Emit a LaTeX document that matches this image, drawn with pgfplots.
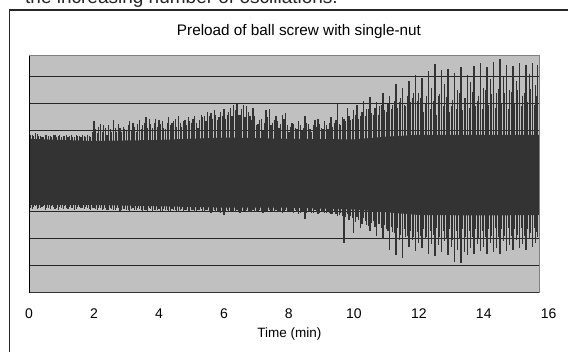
\documentclass[border=0pt]{standalone}
\usepackage{fontspec}
\setmainfont{Liberation Sans}
\usepackage{pgfplots}
\pgfplotsset{compat=1.18}
\usepackage{pgfplotstable}
\definecolor{sig}{HTML}{333333}
\definecolor{plotbg}{HTML}{C0C0C0}
\definecolor{frameg}{HTML}{808080}

\pgfplotstableread{
t hi lo
0.0 6.00 3.15
0.1 5.85 3.10
0.2 5.90 3.20
0.3 5.80 3.12
0.4 5.75 3.18
0.5 5.85 3.08
0.6 5.80 3.15
0.7 5.75 3.20
0.8 5.85 3.10
0.9 5.80 3.05
1.0 5.75 3.15
1.1 5.80 3.20
1.2 5.75 3.10
1.3 5.85 3.15
1.4 5.75 3.08
1.5 5.80 3.18
1.6 5.75 3.12
1.7 5.80 3.10
1.8 5.85 3.15
1.9 5.75 3.08
2.0 6.35 3.12
2.1 5.90 3.05
2.2 6.25 3.15
2.3 6.20 3.10
2.4 5.85 3.08
2.5 6.05 3.15
2.6 6.40 3.05
2.7 5.95 3.12
2.8 6.10 3.02
2.9 6.15 3.10
3.0 6.00 3.08
3.1 6.35 3.00
3.2 6.30 3.12
3.3 5.95 3.05
3.4 6.40 3.10
3.5 6.20 3.02
3.6 6.50 3.08
3.7 6.45 3.12
3.8 6.10 3.00
3.9 6.45 3.05
4.0 6.40 3.10
4.1 6.35 3.02
4.2 6.05 3.08
4.3 6.50 2.98
4.4 6.30 3.10
4.5 6.45 3.05
4.6 6.55 3.00
4.7 6.15 3.10
4.8 6.40 3.05
4.9 6.50 3.02
5.0 6.30 3.08
5.1 6.55 2.98
5.2 6.10 3.05
5.3 6.60 3.10
5.4 6.55 3.00
5.5 6.70 3.05
5.6 6.65 2.95
5.7 6.75 3.08
5.8 6.40 3.02
5.9 6.70 2.95
6.0 6.80 2.88
6.1 6.60 3.05
6.2 6.85 3.00
6.3 6.95 2.98
6.4 7.00 3.05
6.5 6.60 2.95
6.6 6.95 3.02
6.7 6.90 3.08
6.8 6.55 2.98
6.9 6.85 3.05
7.0 6.20 3.00
7.1 6.40 3.08
7.2 6.00 2.95
7.3 6.75 3.02
7.4 6.80 3.05
7.5 6.30 2.98
7.6 6.55 3.08
7.7 6.10 3.00
7.8 6.60 2.95
7.9 6.65 3.05
8.0 5.95 3.02
8.1 6.30 2.98
8.2 6.10 3.05
8.3 6.35 2.92
8.4 6.00 3.00
8.5 6.55 2.72
8.6 6.25 3.02
8.7 5.95 2.95
8.8 6.40 3.05
8.9 6.45 2.92
9.0 6.10 3.00
9.1 6.35 2.95
9.2 6.05 3.02
9.3 6.50 2.90
9.4 6.30 2.98
9.5 7.00 2.85
9.6 6.20 2.95
9.7 6.45 1.84
9.8 6.85 2.90
9.9 6.40 2.85
10.0 6.75 2.20
10.1 6.95 2.80
10.2 6.55 2.40
10.3 7.10 2.75
10.4 6.80 2.50
10.5 7.25 2.30
10.6 6.60 2.65
10.7 7.05 2.10
10.8 6.90 2.55
10.9 7.40 2.00
11.0 6.70 2.35
11.1 7.30 1.58
11.2 6.95 2.25
11.3 7.75 1.40
11.4 7.05 1.95
11.5 7.60 1.29
11.6 6.90 2.05
11.7 7.85 1.70
11.8 7.20 1.95
11.9 8.05 1.55
12.0 7.40 1.85
12.1 7.95 1.65
12.2 7.00 2.00
12.3 8.20 1.45
12.4 7.60 1.80
12.5 8.47 1.35
12.6 7.30 1.75
12.7 8.25 1.50
12.8 7.75 1.90
12.9 8.30 1.40
13.0 6.90 1.70
13.1 8.15 1.12
13.2 7.50 1.60
13.3 8.35 1.10
13.4 7.20 1.50
13.5 8.05 1.40
13.6 7.80 1.65
13.7 8.40 1.45
13.8 7.10 1.80
13.9 8.50 1.55
14.0 7.60 1.70
14.1 8.35 1.45
14.2 7.90 1.85
14.3 8.55 1.50
14.4 7.40 1.65
14.5 8.65 1.45
14.6 8.00 1.90
14.7 8.45 1.55
14.8 7.50 1.75
14.9 8.40 1.60
15.0 7.85 1.95
15.1 8.50 1.65
15.2 7.30 1.80
15.3 8.45 1.58
15.4 8.10 2.00
15.5 8.50 1.70
15.6 7.70 1.85
15.65 8.45 2.05
}\sigdata

\pgfplotstableread{
t hi lo
0.05 5.85 3.12
0.15 5.80 3.18
0.25 5.88 3.10
0.35 5.82 3.15
0.45 5.78 3.20
0.55 5.86 3.12
0.65 5.80 3.10
0.75 5.84 3.16
0.85 5.78 3.12
0.95 5.85 3.18
1.05 5.80 3.10
1.15 5.86 3.14
1.25 5.80 3.18
1.35 5.78 3.12
1.45 5.84 3.10
1.55 5.80 3.16
1.65 5.86 3.12
1.75 5.78 3.18
1.85 5.82 3.10
1.95 5.95 3.12
2.05 6.05 3.10
2.15 6.15 3.12
2.25 5.95 3.08
2.35 6.10 3.12
2.45 6.20 3.06
2.55 5.95 3.10
2.65 6.10 3.08
2.75 6.25 3.12
2.85 5.95 3.06
2.95 6.05 3.10
3.05 6.20 3.05
3.15 6.00 3.10
3.25 6.15 3.06
3.35 6.25 3.12
3.45 6.05 3.05
3.55 6.30 3.08
3.65 6.10 3.04
3.75 6.25 3.10
3.85 6.30 3.06
3.95 6.15 3.08
4.05 6.25 3.04
4.15 6.10 3.10
4.25 6.30 3.06
4.35 6.20 3.02
4.45 6.35 3.08
4.55 6.15 3.04
4.65 6.30 3.08
4.75 6.35 3.02
4.85 6.20 3.06
4.95 6.35 3.04
5.05 6.45 3.06
5.15 6.30 3.02
5.25 6.40 3.08
5.35 6.50 3.02
5.45 6.35 3.06
5.55 6.55 2.98
5.65 6.45 3.04
5.75 6.60 3.00
5.85 6.50 3.04
5.95 6.55 2.98
6.05 6.45 3.02
6.15 6.70 3.00
6.25 6.55 3.04
6.35 6.75 2.98
6.45 6.60 3.02
6.55 6.80 3.00
6.65 6.50 3.04
6.75 6.70 2.98
6.85 6.40 3.02
6.95 6.55 3.00
7.05 6.25 3.04
7.15 6.45 2.98
7.25 6.30 3.02
7.35 6.50 3.00
7.45 6.20 3.04
7.55 6.40 2.98
7.65 6.35 3.02
7.75 6.25 3.00
7.85 6.45 3.04
7.95 6.20 2.98
8.05 6.15 3.02
8.15 6.25 2.96
8.25 6.05 3.00
8.35 6.20 2.95
8.45 6.10 3.00
8.55 6.30 2.94
8.65 6.05 2.98
8.75 6.20 2.96
8.85 6.15 3.00
8.95 6.25 2.94
9.05 6.05 2.98
9.15 6.20 2.94
9.25 6.30 2.96
9.35 6.15 2.90
9.45 6.40 2.92
9.55 6.25 2.88
9.65 6.50 2.85
9.75 6.35 2.80
9.85 6.55 2.70
9.95 6.45 2.75
10.05 6.60 2.62
10.15 6.45 2.70
10.25 6.70 2.55
10.35 6.55 2.65
10.45 6.80 2.48
10.55 6.65 2.60
10.65 6.85 2.42
10.75 6.60 2.55
10.85 6.95 2.38
10.95 6.75 2.50
11.05 7.00 2.30
11.15 6.80 2.45
11.25 7.10 2.20
11.35 6.85 2.40
11.45 7.20 2.15
11.55 6.95 2.35
11.65 7.30 2.10
11.75 7.05 2.30
11.85 7.40 2.05
11.95 7.10 2.25
12.05 7.20 2.10
12.15 6.70 2.35
12.25 7.30 2.05
12.35 6.80 2.30
12.45 7.10 2.15
12.55 6.60 2.40
12.65 7.35 2.05
12.75 6.90 2.30
12.85 7.25 2.00
12.95 6.70 2.35
13.05 7.15 1.95
13.15 6.80 2.30
13.25 7.40 2.00
13.35 6.75 2.35
13.45 7.20 2.05
13.55 6.85 2.30
13.65 7.45 2.05
13.75 6.90 2.35
13.85 7.30 2.00
13.95 6.80 2.30
14.05 7.50 2.05
14.15 6.95 2.35
14.25 7.35 2.10
14.35 6.85 2.40
14.45 7.55 2.05
14.55 7.00 2.35
14.65 7.40 2.10
14.75 6.80 2.40
14.85 7.45 2.10
14.95 7.00 2.35
15.05 7.50 2.15
15.15 6.90 2.40
15.25 7.40 2.10
15.35 7.05 2.35
15.45 7.55 2.20
15.55 6.95 2.40
15.62 7.30 2.25
}\middata

\begin{document}
\begin{tikzpicture}[x=1pt,y=1pt]
\useasboundingbox (0,0) rectangle (568,351);
\begin{scope}
\clip (0,0) rectangle (568,351);
\node[anchor=base west, inner sep=0pt, font=\fontsize{19}{22}\selectfont, text=black!85] at (25,347) {the increasing number of oscillations.};
\draw[line width=1.2pt, black!85] (9.3,-5) -- (9.3,341) -- (575,341);
\end{scope}
\node[anchor=base, inner sep=0pt, font=\fontsize{15.3}{17}\selectfont] at (299,315.5) {Preload of ball screw with single-nut};
\begin{axis}[
  at={(29pt,58.3pt)}, anchor=south west,
  scale only axis, width=510pt, height=237pt,
  xmin=0, xmax=15.7, ymin=0, ymax=8.78,
  axis background/.style={fill=plotbg},
  axis line style={draw=none},
  xtick={0,2,4,6,8,10,12,14},
  xticklabels={0,2,4,6,8,10,12,14},
  ytick={1,2,3,4,5,6,7,8}, yticklabels={},
  ymajorgrids, grid style={line width=0.9pt, color=black!85},
  major tick length=0pt,
  xticklabel shift=16pt,
  xticklabel style={inner sep=0pt, anchor=north, font=\fontsize{14}{16}\selectfont},
  /pgf/number format/assume math mode=true,
  clip mode=individual,
]
\addplot[fill=sig, draw=none, forget plot] coordinates {
(0,5.70) (2,5.62) (4,5.66) (6,5.75) (8,5.70) (10,5.68) (11,5.78) (12,5.85) (14,5.85) (15.7,5.85)
(15.7,2.88) (14,2.86) (12,2.88) (11,2.98) (10,3.08) (8,3.15) (6,3.15) (4,3.20) (2,3.25) (0,3.25)
} -- cycle;
\addplot[draw=none, mark=none, forget plot,
  error bars/.cd, y dir=minus, y explicit, error mark=none,
  error bar style={line width=1.1pt, color=sig}]
  table[x=t, y=hi, y error minus expr={\thisrow{hi}-\thisrow{lo}}] {\middata};
\addplot[draw=none, mark=none, forget plot,
  error bars/.cd, y dir=minus, y explicit, error mark=none,
  error bar style={line width=1.3pt, color=sig}]
  table[x=t, y=hi, y error minus expr={\thisrow{hi}-\thisrow{lo}}] {\sigdata};
\draw[frameg, line width=1pt] (rel axis cs:0,1) -- (rel axis cs:1,1) -- (rel axis cs:1,0);
\draw[black!80, line width=1pt] (rel axis cs:0,0) -- (rel axis cs:1,0);
\draw[black, line width=1pt] (rel axis cs:0,0) -- (rel axis cs:0,1);
\node[anchor=north, inner sep=0pt, font=\fontsize{14}{16}\selectfont, yshift=-16pt] at (axis cs:16,0) {16};
\end{axis}
\node[font=\fontsize{13.5}{16}\selectfont] at (289.3,16.5) {Time (min)};
\end{tikzpicture}
\end{document}
